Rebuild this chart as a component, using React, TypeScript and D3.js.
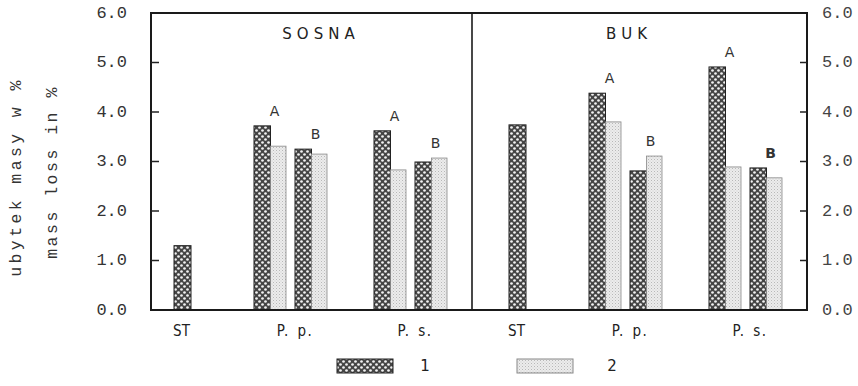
import React from "react";
import * as d3 from "d3";

// ---- data ----
const panels = ["SOSNA", "BUK"];
const categories = ["ST", "P. p.", "P. s."];
const pairKeys = ["A", "B"];
const seriesKeys = ["1", "2"];
const yTicks = [0, 1, 2, 3, 4, 5, 6];
const tickLabels = ["0.0", "1.0", "2.0", "3.0", "4.0", "5.0", "6.0"];
// ST control values (series 1 only), per panel
const stValues = [1.3, 3.74];
// order: P.p.-A, P.p.-B, P.s.-A, P.s.-B
const series1Sosna = [3.72, 3.25, 3.62, 2.99];
const series2Sosna = [3.31, 3.15, 2.83, 3.07];
const series1Buk = [4.38, 2.81, 4.91, 2.87];
const series2Buk = [3.8, 3.11, 2.89, 2.67];
const yTitle1 = "ubytek masy w %";
const yTitle2 = "mass loss in %";

const W = 858;
const H = 386;
const left = 151;
const right = 807;
const top = 13;
const bottom = 310;
const divider = 472;

const mono = "'Liberation Mono', 'DejaVu Sans Mono', monospace";
const sans = "'DejaVu Sans', 'Liberation Sans', sans-serif";
const cond = "'DejaVu Sans Condensed', 'Liberation Sans Narrow', 'DejaVu Sans', sans-serif";

export default function App() {
  const y = d3.scaleLinear().domain([0, 6]).range([bottom, top]);
  const panelRanges: [number, number][] = [
    [left, divider],
    [divider, right],
  ];
  const s1 = [series1Sosna, series1Buk];
  const s2 = [series2Sosna, series2Buk];

  const groupW = 74;
  const rightPad = 24;
  const groupGap = 46;
  const stGap = 63;
  const stW = 17;

  const marks: React.ReactNode[] = [];
  const labels: React.ReactNode[] = [];

  panels.forEach((p, pi) => {
    const [, pr] = panelRanges[pi];
    const psX = pr - rightPad - groupW;
    const ppX = psX - groupGap - groupW;
    const stX = ppX - stGap - stW;
    const groupStarts = [ppX, psX];
    marks.push(
      <rect key={`st-${pi}`} x={stX} y={y(stValues[pi])} width={stW} height={y(0) - y(stValues[pi])}
        fill="url(#pat1)" stroke="#222" strokeWidth={1} />
    );
    labels.push(
      <text key={`cl-st-${pi}`} x={stX + stW / 2 - 1} y={331} textAnchor="middle" dominantBaseline="central"
        fontFamily={cond} fontSize={15} fill="#222">{categories[0]}</text>
    );
    groupStarts.forEach((gx, gi) => {
      const x1 = d3.scaleBand<string>().domain(pairKeys).range([gx, gx + groupW]).paddingInner(0.195);
      const x2 = d3.scaleBand<string>().domain(seriesKeys).range([0, x1.bandwidth()]);
      labels.push(
        <text key={`cl-${pi}-${gi}`} x={gx + groupW / 2 + 4} y={331} textAnchor="middle" dominantBaseline="central"
          fontFamily={cond} fontSize={15} wordSpacing={2} letterSpacing={1.5} fill="#222">{categories[gi + 1]}</text>
      );
      pairKeys.forEach((pk, ki) => {
        const idx = gi * 2 + ki;
        const v1 = s1[pi][idx];
        const v2 = s2[pi][idx];
        const bx = x1(pk)!;
        marks.push(
          <rect key={`b1-${pi}-${idx}`} x={bx + x2("1")!} y={y(v1)} width={x2.bandwidth()} height={y(0) - y(v1)}
            fill="url(#pat1)" stroke="#222" strokeWidth={1} />
        );
        marks.push(
          <rect key={`b2-${pi}-${idx}`} x={bx + x2("2")!} y={y(v2)} width={x2.bandwidth() - 1} height={y(0) - y(v2)}
            fill="url(#pat2)" stroke="#888" strokeWidth={0.8} />
        );
        const bold = pi === 1 && gi === 1 && pk === "B";
        labels.push(
          <text key={`ab-${pi}-${idx}`} x={bx + x1.bandwidth() / 2 + 4} y={y(Math.max(v1, v2)) - 15}
            textAnchor="middle" dominantBaseline="central" fontFamily={sans} fontSize={14}
            fontWeight={bold ? "bold" : "normal"} fill="#333">{pk}</text>
        );
      });
    });
    labels.push(
      <text key={`pt-${pi}`} x={pi === 0 ? 321 : 629} y={34} textAnchor="middle" dominantBaseline="central"
        fontFamily={sans} fontSize={15} letterSpacing={5} fill="#222">{p}</text>
    );
  });

  return (
    <svg width={W} height={H} style={{ position: "absolute", left: 0, top: 0, background: "#fff" }}>
      <defs>
        <pattern id="pat1" width={6} height={6} patternUnits="userSpaceOnUse">
          <rect width={6} height={6} fill="#454545" />
          <circle cx={1.5} cy={1.5} r={1.35} fill="#f2f2f2" />
          <circle cx={4.5} cy={4.5} r={1.35} fill="#f2f2f2" />
        </pattern>
        <pattern id="pat2" width={3} height={3} patternUnits="userSpaceOnUse">
          <rect width={3} height={3} fill="#ececec" />
          <rect x={0} y={0} width={1} height={1} fill="#b8b8b8" />
          <rect x={1.5} y={1.5} width={1} height={1} fill="#cfcfcf" />
        </pattern>
      </defs>
      <rect x={0} y={0} width={W} height={H} fill="#fff" />
      {marks}
      <rect x={left} y={top} width={right - left} height={bottom - top} fill="none" stroke="#1a1a1a" strokeWidth={2} />
      <line x1={divider} x2={divider} y1={top} y2={bottom} stroke="#1a1a1a" strokeWidth={1.6} />
      {yTicks.map((t, i) => (
        <g key={`t-${i}`}>
          {i > 0 && i < yTicks.length - 1 && (
            <>
              <line x1={left} x2={left + 8} y1={y(t)} y2={y(t)} stroke="#222" strokeWidth={1.5} />
              <line x1={right - 7} x2={right} y1={y(t)} y2={y(t)} stroke="#222" strokeWidth={1.5} />
            </>
          )}
          <text x={127} y={y(t)} textAnchor="end" dominantBaseline="central" fontFamily={mono} fontSize={17} fill="#333">{tickLabels[i]}</text>
          <text x={822} y={y(t)} textAnchor="start" dominantBaseline="central" fontFamily={mono} fontSize={17} fill="#444">{tickLabels[i]}</text>
        </g>
      ))}
      <text transform="translate(16,177) rotate(-90)" textAnchor="middle" dominantBaseline="central"
        fontFamily={mono} fontSize={16.5} letterSpacing={3.4} fill="#333">{yTitle1}</text>
      <text transform="translate(52,172) rotate(-90)" textAnchor="middle" dominantBaseline="central"
        fontFamily={mono} fontSize={16.5} letterSpacing={2.5} fill="#333">{yTitle2}</text>
      {labels}
      <rect x={337} y={359} width={56} height={14} fill="url(#pat1)" stroke="#222" strokeWidth={1} />
      <text x={425} y={366} textAnchor="middle" dominantBaseline="central" fontFamily={sans} fontSize={15} fill="#222">{seriesKeys[0]}</text>
      <rect x={517} y={359} width={56} height={14} fill="url(#pat2)" stroke="#888" strokeWidth={1} />
      <text x={612} y={366} textAnchor="middle" dominantBaseline="central" fontFamily={sans} fontSize={15} fill="#222">{seriesKeys[1]}</text>
    </svg>
  );
}
